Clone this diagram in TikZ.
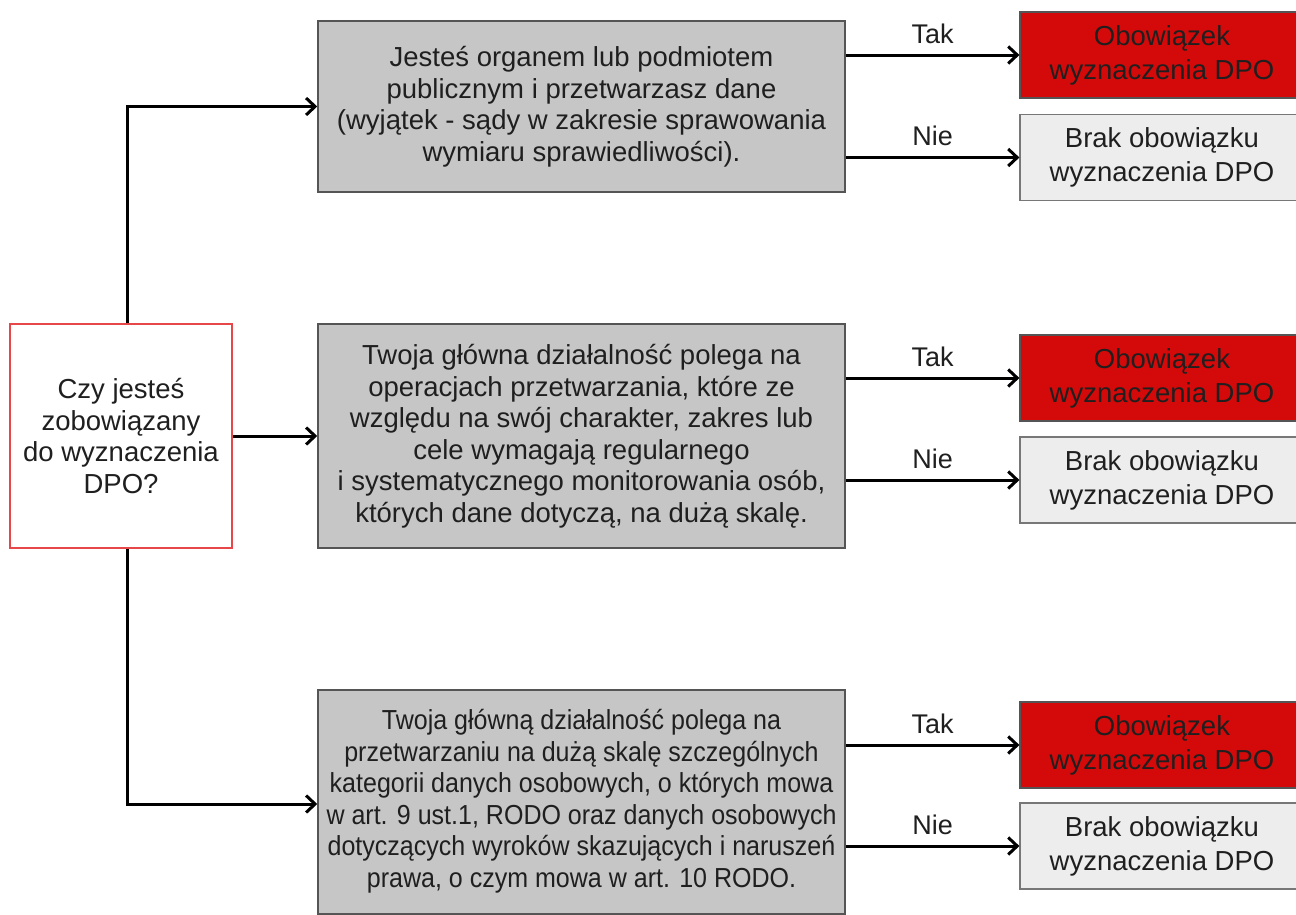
\documentclass[tikz,border=0pt]{standalone}
\usepackage{fontspec}
\setmainfont{Liberation Sans}
\usetikzlibrary{arrows.meta}
\definecolor{qred}{HTML}{E8474A}
\definecolor{boxgray}{HTML}{C6C6C6}
\definecolor{boxedge}{HTML}{555555}
\definecolor{yesred}{HTML}{D40A0A}
\definecolor{nolight}{HTML}{EEEDED}
\tikzset{
  every node/.style={font=\fontsize{27.5}{31.5}\selectfont, text=black!88},
  qbox/.style={draw=qred, line width=1.5pt, fill=white, minimum width=222pt, minimum height=224pt, align=center, inner sep=0pt},
  condbox/.style={draw=boxedge, line width=1.5pt, fill=boxgray, minimum width=527pt, align=center, inner sep=0pt},
  yesbox/.style={draw=boxedge, line width=1.2pt, fill=yesred, minimum width=284pt, minimum height=86pt, align=center, inner sep=0pt, font=\fontsize{27.5}{34}\selectfont},
  nobox/.style={draw=boxedge!80, line width=1.2pt, fill=nolight, minimum width=284pt, minimum height=86pt, align=center, inner sep=0pt, font=\fontsize{27.5}{34}\selectfont},
  arr/.style={line width=3pt, -{Straight Barb[length=9pt, width=17pt, line width=3pt]}},
  lbl/.style={font=\fontsize{27}{30}\selectfont, inner sep=0pt},
}
\begin{document}
\begin{tikzpicture}[x=1pt, y=-1pt]
\useasboundingbox (0,0) rectangle (1296,914);
\node[qbox] (q) at (121,436) {Czy jesteś\\zobowiązany\\do wyznaczenia\\DPO?};
\node[condbox, minimum height=171pt] (g1) at (581.5,106.5) {Jesteś organem lub podmiotem\\publicznym i przetwarzasz dane\\(wyjątek - sądy w zakresie sprawowania\\wymiaru sprawiedliwości).};
\node[condbox, minimum height=224pt] (g2) at (581.5,436) {Twoja główna działalność polega na\\operacjach przetwarzania, które ze\\względu na swój charakter, zakres lub\\cele wymagają regularnego\\i systematycznego monitorowania osób,\\których dane dotyczą, na dużą skalę.};
\node[condbox, minimum height=224pt] (g3) at (581.5,802) {\scalebox{0.91}[1]{\begin{tabular}{@{}c@{}}Twoja główną działalność polega na\\przetwarzaniu na dużą skalę szczególnych\\kategorii danych osobowych, o których mowa\\w art. 9 ust.1, RODO oraz danych osobowych\\dotyczących wyroków skazujących i naruszeń\\prawa, o czym mowa w art. 10 RODO.\end{tabular}}};
\node[yesbox] (y1) at (1162,55) {Obowiązek\\wyznaczenia DPO};
\node[nobox] (n1) at (1162,157.5) {Brak obowiązku\\wyznaczenia DPO};
\node[yesbox] (y2) at (1162,378) {Obowiązek\\wyznaczenia DPO};
\node[nobox] (n2) at (1162,480) {Brak obowiązku\\wyznaczenia DPO};
\node[yesbox] (y3) at (1162,745) {Obowiązek\\wyznaczenia DPO};
\node[nobox] (n3) at (1162,846) {Brak obowiązku\\wyznaczenia DPO};
% left connectors
\draw[arr] ([xshift=6pt]q.north) |- (g1.west);
\draw[arr] (q.east) -- (g2.west);
\draw[arr] ([xshift=6pt]q.south) |- ([yshift=-2pt]g3.west);
% right connectors
\foreach \g/\y/\n in {g1/y1/n1, g2/y2/n2, g3/y3/n3}{
  \draw[arr] (\y.west -| \g.east) -- (\y.west) node[lbl, midway, above=10pt] {Tak};
  \draw[arr] (\n.west -| \g.east) -- (\n.west) node[lbl, midway, above=10pt] {Nie};
}
\end{tikzpicture}
\end{document}
